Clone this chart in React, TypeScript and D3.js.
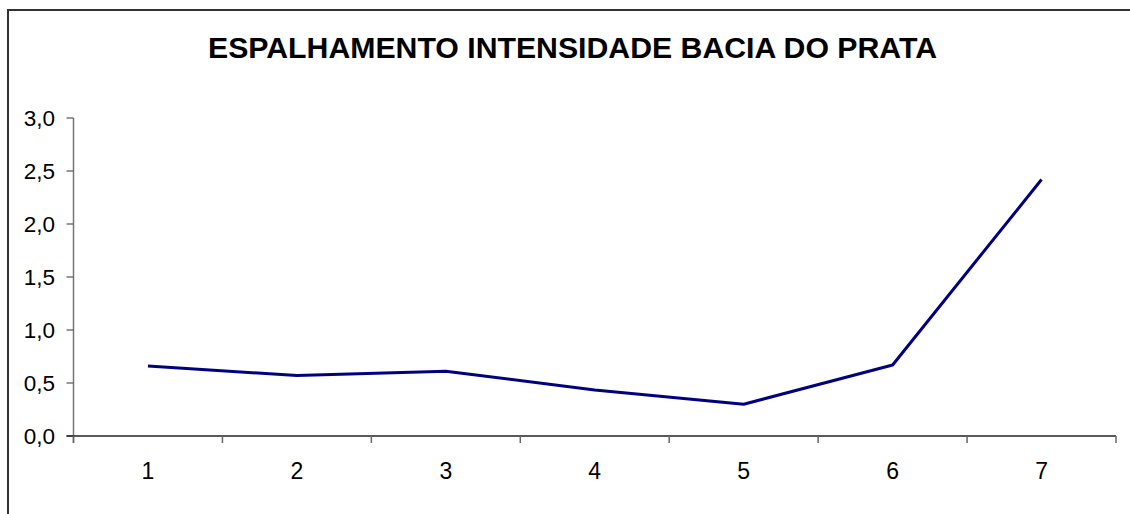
import React from "react";
import * as d3 from "d3";

const categories = ["1", "2", "3", "4", "5", "6", "7"];
const values = [0.66, 0.57, 0.61, 0.435, 0.3, 0.67, 2.42];
const yTicks = [0, 0.5, 1, 1.5, 2, 2.5, 3];
const title = "ESPALHAMENTO INTENSIDADE BACIA DO PRATA";

const W = 1130;
const H = 514;
const left = 73.5;
const right = 1116;
const top = 118;
const bottom = 436;

export default function App() {
  const x = d3.scaleBand<string>().domain(categories).range([left, right]).padding(0);
  const y = d3.scaleLinear().domain([0, 3]).range([bottom, top]);
  const line = d3
    .line<number>()
    .x((_, i) => (x(categories[i]) as number) + x.bandwidth() / 2)
    .y((d) => y(d));
  const fmt = (v: number) => v.toFixed(1).replace(".", ",");
  const font = "'Liberation Sans', Arial, sans-serif";
  const boundaries = categories.map((c) => x(c) as number).concat([right]);

  return (
    <svg
      width={W}
      height={H}
      style={{ position: "absolute", left: 0, top: 0, background: "#fff" }}
      fontFamily={font}
    >
      <rect x={0} y={0} width={W} height={H} fill="#fff" />
      <rect x={8} y={10} width={W + 20} height={H + 20} fill="none" stroke="#333" strokeWidth={2} />
      <text
        x={572.5}
        y={57.5}
        textAnchor="middle"
        fontSize={29}
        fontWeight="bold"
        fill="#000"
        textLength={729}
        lengthAdjust="spacingAndGlyphs"
      >
        {title}
      </text>
      {/* y axis */}
      <line x1={left} x2={left} y1={top} y2={bottom + 7} stroke="#777" strokeWidth={1.5} />
      {yTicks.map((t) => (
        <g key={t}>
          <line x1={left - 7} x2={left} y1={y(t)} y2={y(t)} stroke="#555" strokeWidth={1.2} />
          <text x={55} y={y(t)} dy="0.36em" textAnchor="end" fontSize={22.5} fill="#000">
            {fmt(t)}
          </text>
        </g>
      ))}
      {/* x axis */}
      <line x1={left - 7} x2={right} y1={bottom} y2={bottom} stroke="#222" strokeWidth={1.5} />
      {boundaries.map((b, i) => (
        <line key={i} x1={b} x2={b} y1={bottom} y2={bottom + 7} stroke="#666" strokeWidth={1.5} />
      ))}
      {categories.map((c) => (
        <text
          key={c}
          x={(x(c) as number) + x.bandwidth() / 2}
          y={479}
          textAnchor="middle"
          fontSize={23}
          fill="#000"
        >
          {c}
        </text>
      ))}
      <path d={line(values) as string} fill="none" stroke="#000080" strokeWidth={3} strokeLinejoin="round" />
    </svg>
  );
}
